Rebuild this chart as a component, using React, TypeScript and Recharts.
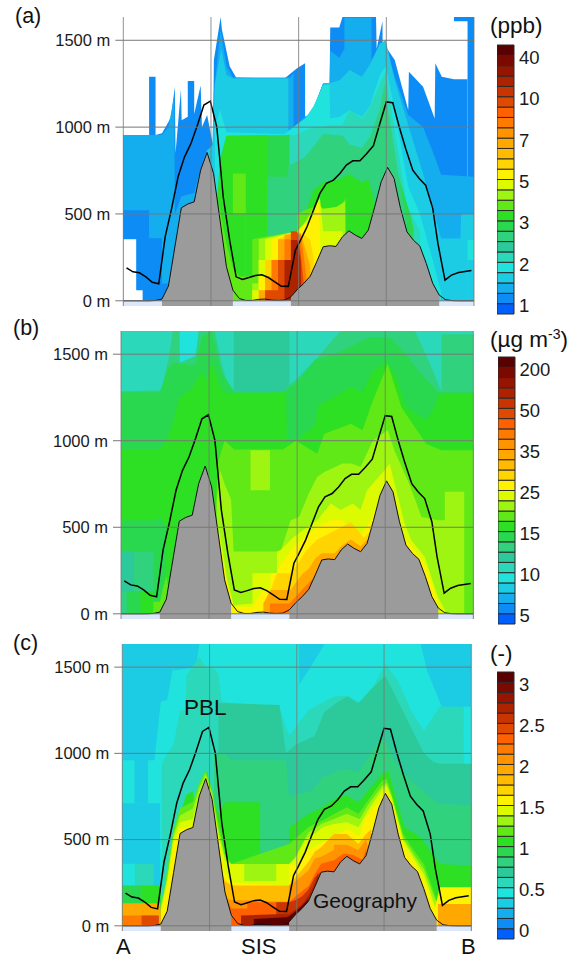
import React from 'react';
import { Area, Bar, BarChart, ComposedChart, Line, ReferenceLine, XAxis, YAxis } from 'recharts';

type Pt = [number, number];
type Band = [number, Pt[]];

const FONT = '"Liberation Sans", Arial, sans-serif';
const WHITE = -1;

// colour scale, lowest class first
const palette = [
  '#0060ff', '#0e8cf5', '#14aeee', '#1ccbe4', '#21e3dd', '#2bd8ba', '#2cc99a', '#30d27d', '#2ad84f',
  '#2ee023', '#60e817', '#9ef512', '#ddfb00', '#fff200', '#ffd400', '#ffbb00', '#ffa800', '#ff9400',
  '#ff7a00', '#ff6000', '#e04a00', '#c93400', '#ad2300', '#951500', '#7a0a00', '#5a0000',
];

const scaleTicks = [1, 5, 9, 13, 17, 21, 25];
const labelsA = ['1', '2', '3', '5', '7', '10', '40'];
const labelsB = ['5', '10', '15', '25', '35', '50', '200'];
const labelsC = ['0', '0.5', '1', '1.5', '2', '2.5', '3'];
const scaleCells = [1];

const heightTicks = [0, 500, 1000, 1500];
const distanceTicks = [0, 13.6, 27.2, 40.8, 54.4];
const Z_MIN = -30;
const Z_MAX = 1634;
const X_MAX = 54.4;

// section geometry, x in model columns, z in metres
const terrain: Pt[] = [
  [0, 0], [1, 0], [2, 0], [3, 0], [4, 0], [5, 2], [6, 10], [7, 85], [8, 310], [9, 535], [10, 557], [11, 570],
  [12, 753], [13, 854], [14, 733], [15, 465], [16, 196], [17, 61], [18, 13], [19, 2], [20, 2], [21, 8], [22, 10],
  [23, 4], [24, 2], [25, 4], [26, 23], [27, 65], [28, 100], [29, 142], [30, 225], [31, 311], [32, 317], [33, 313],
  [34, 369], [35, 403], [36, 378], [37, 359], [38, 407], [39, 541], [40, 685], [41, 768], [42, 705], [43, 532],
  [44, 397], [45, 349], [46, 315], [47, 215], [48, 100], [49, 33], [50, 6], [51, 1], [52, 0], [53, 0], [54.4, 0],
];
const pbl: Pt[] = [
  [0.5, 190], [1.5, 167], [2.5, 161], [3.5, 138], [4.5, 107], [5.5, 98], [6.5, 369], [7.5, 532], [8.5, 714], [9.5, 829],
  [10.5, 906], [11.5, 1012], [12.5, 1127], [13.5, 1150], [14.5, 1002], [15.5, 599], [16.5, 349], [17.5, 138], [18.5, 123],
  [19.5, 134], [20.5, 146], [21.5, 150], [22.5, 134], [23.5, 109], [24.5, 84], [25.6, 83], [26.7, 292], [27.5, 349],
  [28.5, 426], [29.5, 522], [30.5, 618], [31.5, 676], [32.6, 695], [33.6, 733], [34.6, 781], [35.6, 806], [36.7, 806],
  [37.7, 845], [38.8, 893], [39.8, 1021], [40.8, 1145], [41.8, 1140], [42.8, 1002], [43.8, 877], [44.9, 752], [45.9, 704],
  [46.9, 666], [48, 532], [48.8, 330], [49.9, 119], [50.9, 148], [52, 163], [53, 169], [54, 175],
];
const groundStrip: Pt[] = [[0, 0], [X_MAX, 0]];

// panel (a), ppb classes painted in order
const a1: Pt[] = [[0, 954], [4, 954], [4, 1290], [5, 1290], [5, 954], [6, 965], [7, 1030], [7.4, 1060], [8, 1232], [8.1, 850], [8.95, 1220], [9.05, 1040], [10, 1060], [10, 1265], [11, 1265], [11, 1075], [12, 1240], [12.2, 1000], [13, 1070], [13.9, 900], [14.05, 1386], [15.1, 1634], [15.3, 1560], [16.5, 1350], [17.5, 1285], [25, 1280], [26, 1310], [27, 1340], [28.2, 1367], [28.2, 1060], [29.2, 1079], [31, 1252], [32, 1252], [32.1, 1574], [33.5, 1574], [34, 1634], [39.2, 1634], [39.3, 1450], [40.2, 1610], [40.25, 1400], [40.9, 1453], [42.1, 1386], [44.2, 1098], [44.3, 1319], [46.5, 1232], [48.3, 1050], [48.4, 1367], [49.4, 1290], [51.3, 1275], [51.3, 1634], [54.4, 1634]];
const aHole: Pt[] = [[51.3, 1610], [53.4, 1610]];
const a1Right: Pt[] = [[51.3, 1275], [53.4, 1275]];
const a2: Pt[] = [[0, 954], [6, 954], [7, 1000], [7.9, 1180], [8, 500], [9, 600], [11, 620], [12, 760], [13, 870], [13.8, 880], [14.05, 1200], [15.1, 1560], [16, 1350], [17, 1285], [25.9, 1285], [26.4, 1310], [26.4, 1000], [28.2, 1060], [29.2, 1079], [31, 1252], [32, 1252], [32.1, 1440], [33.5, 1400], [34.3, 1450], [34.3, 1630], [38.5, 1630], [38.5, 1300], [39.5, 1250], [40.8, 1450], [42, 1300], [44.2, 1070], [46.5, 1000], [48.3, 830], [49.3, 725], [54.4, 714]];
const a1Low: Pt[] = [[0, 522], [4, 522], [4, 360], [6, 360], [6, 100], [7, 100]];
const aHoleLow: Pt[] = [[0, 355], [2, 355], [2, 60], [3, 60], [3, 0]];
const a3: Pt[] = [[12.9, 860], [13.9, 900], [14.2, 1250], [15.2, 1450], [16, 1300], [17, 1280], [25.6, 1280], [25.6, 954], [27, 965], [28.2, 1010], [29.2, 1079], [31, 1252], [32.1, 1252], [33.6, 1271], [35.1, 1329], [37, 1290], [38.2, 1357], [39.8, 1482], [40.7, 1500], [42.1, 1271], [44.2, 1012], [46.5, 733], [49.3, 359], [52.3, 359], [52.4, 500], [54.4, 500]];
const a4Right: Pt[] = [[53.4, 350], [54.4, 350]];
const a3Low: Pt[] = [[53.4, 234], [54.4, 234]];
const a4: Pt[] = [[14.2, 1000], [15, 1100], [16, 970], [25, 960], [26.4, 1000], [28.2, 1050], [29.5, 1120], [31, 1240], [32, 1245], [32.1, 1050], [33.6, 1060], [35.1, 1098], [37, 1060], [38.2, 1118], [39.8, 1300], [40.7, 1350], [42.1, 1098], [44.2, 657], [46, 503], [48, 234], [49.3, 50]];
const a5: Pt[] = [[25.5, 960], [26.4, 950], [28.2, 980], [29.5, 1000], [31, 1000], [32.1, 1012], [34, 1012], [35.1, 1100], [37, 1050], [38.2, 1110], [39.8, 1250], [40.7, 1320], [42, 1000], [44, 550], [46, 400]];
const a7: Pt[] = [[25.5, 772], [26.4, 791], [28.2, 829], [29.5, 887], [31, 960], [34, 950], [35.1, 900], [37, 880], [38.2, 940], [39.8, 1100], [40.5, 1250], [41.5, 1000], [43, 650], [44, 450]];
const a8: Pt[] = [[14.5, 550], [15, 820], [16, 950], [25.8, 954], [25.8, 700], [26.4, 700], [28.2, 760], [29.5, 760], [31, 720], [33, 740], [35.1, 800], [37, 770], [38.2, 790], [39.5, 760], [40.5, 900], [41, 1000], [42, 800], [43.5, 620], [44.5, 500], [45, 420]];
const a7Low: Pt[] = [[22.3, 714], [25.8, 714]];
const a9: Pt[] = [[14.5, 500], [15, 780], [16, 950], [22.3, 954], [22.3, 360], [26, 360], [27, 420], [28, 480], [29.5, 640], [31, 680], [33.5, 700], [35, 730], [37, 680], [38, 700], [39, 560], [39.2, 100]];
const a10Block: Pt[] = [[17, 733], [19, 733]];
const a9Low: Pt[] = [[17, 503], [19, 503]];
const a10: Pt[] = [[14.8, 560], [16, 330], [17, 190], [18, 140], [20, 140], [20, 355], [27, 400], [27, 500], [28, 520], [29.5, 540], [31, 510], [33, 510], [34.5, 590], [34.5, 100]];
const a11: Pt[] = [[20, 100], [21, 100], [21, 355], [27, 400], [28.5, 470], [29.5, 540], [30, 560], [31, 530], [33, 540], [34.4, 570], [34.5, 100]];
const a12: Pt[] = [[20, 60], [21, 60], [21, 235], [22, 235], [22, 355], [27, 400], [28.5, 460], [29.5, 530], [30.5, 590], [31, 400], [34, 400]];
const a13: Pt[] = [[21, 140], [22, 140], [22, 235], [23, 235], [23, 355], [27, 400], [28.5, 450], [29.5, 480], [30.3, 560], [30.5, 350]];
const a14: Pt[] = [[22, 235], [24, 235], [24, 355], [27, 400], [28, 380], [29, 350], [29.5, 250]];
const a16: Pt[] = [[21, 60], [22, 60], [22, 140], [23, 140], [23, 235], [24, 235], [24, 355], [25, 355], [25, 380], [27.5, 390], [28, 330], [29, 200]];
const a18: Pt[] = [[22, 60], [23, 60], [23, 235], [25, 235], [25, 355], [26, 355], [26, 400], [27.5, 380], [28, 260], [28.5, 100]];
const a20: Pt[] = [[22, 60], [24, 60], [24, 235], [26, 235], [26, 400], [27, 400], [27.5, 280], [28, 100]];
const a22: Pt[] = [[25, 235], [26, 235], [26, 350], [27, 350], [27.5, 230], [27.6, 50]];
const bandsA: Band[] = [
  [1, a1], [WHITE, aHole], [1, a1Right], [2, a2], [1, a1Low], [WHITE, aHoleLow], [3, a3], [4, a4Right], [3, a3Low], [4, a4], [5, a5], [8, a8], [7, a7], [7, a7Low], [9, a9],
  [10, a10Block], [9, a9Low], [10, a10], [11, a11], [12, a12], [13, a13], [14, a14], [16, a16], [18, a18], [20, a20], [22, a22],
];

// panel (b), ug m-3 classes
const b5: Pt[] = [[0, 1634], [X_MAX, 1634]];
const b4: Pt[] = [[9.1, 1634], [12, 1634]];
const b6: Pt[] = [[17.4, 1634], [26, 1634]];
const b7: Pt[] = [[0, 1286], [6.2, 1290], [7.5, 1500], [8, 1634], [9, 1634], [9.05, 1450], [11.5, 1490], [12, 1634], [14.5, 1634], [15.5, 1450], [16.5, 1310], [18, 1286], [24.65, 1280], [27.2, 1360], [30.3, 1480], [33.9, 1634], [45.4, 1634], [48, 1420], [49.5, 1280], [49.5, 1615], [54.4, 1615]];
const b8: Pt[] = [[0, 1280], [6, 1280], [7.3, 1420], [8, 1450], [10.5, 1440], [11.5, 1440], [12.5, 1600], [14, 1634], [15.5, 1400], [17.5, 1280], [25, 1280], [27.2, 1340], [30, 1470], [33, 1500], [38.5, 1600], [41.5, 1600], [44, 1500], [46, 1400], [49, 1280], [54.4, 1280]];
const b9: Pt[] = [[0, 950], [6, 950], [7, 1000], [8, 1100], [9, 1250], [11, 1300], [12.5, 1400], [13.1, 1340], [14, 1450], [15.5, 1300], [16.5, 1270], [25.5, 1280], [25.6, 1000], [27, 1000], [30, 1090], [30.4, 1200], [31.4, 1221], [34.2, 1280], [35.5, 1310], [37.3, 1280], [38.9, 1400], [41, 1455], [42.5, 1370], [44, 1194], [47.1, 1117], [48.5, 1200], [49.2, 1275], [54.4, 1275]];
const b8Low: Pt[] = [[0, 540], [5, 540], [6, 560], [7, 500]];
const b7Low: Pt[] = [[0, 359], [5, 359], [5, 130]];
const b6Low: Pt[] = [[0, 359], [2, 359], [2, 130]];
const b7Floor: Pt[] = [[0, 130], [0.9, 130]];
const b8Floor: Pt[] = [[0.9, 130], [3, 130]];
const b9Floor: Pt[] = [[3, 130], [5, 130]];
const b10: Pt[] = [[5, 70], [6, 70], [6.5, 150], [7, 220], [7.5, 100], [14.5, 500], [15, 880], [16, 1000], [17.5, 950], [25, 950], [27, 1000], [30.3, 925], [31.4, 1040], [34.2, 1079], [35.5, 1098], [37.3, 1060], [38.9, 1233], [41.2, 1444], [43.3, 1194], [47.1, 983], [49.5, 945], [54.4, 945]];
const b11Block: Pt[] = [[20, 945], [23, 945]];
const b10Low: Pt[] = [[17.4, 714], [23, 714]];
const b11: Pt[] = [[14.8, 650], [15.3, 830], [16, 750], [17, 660], [17.4, 360], [24.65, 360], [26.2, 540], [27.5, 560], [29, 695], [30.3, 791], [31.4, 820], [34.2, 868], [35.5, 868], [37, 849], [38.9, 1002], [41.2, 1060], [42.2, 945], [44.5, 752], [46.4, 560], [49, 541], [50, 541], [50, 705], [53, 705], [53, 0]];
const b12: Pt[] = [[15.1, 500], [16.4, 200], [17.4, 50], [20.3, 60], [20.3, 234], [24.1, 234], [24.1, 360], [24.65, 369], [26.7, 445], [30.3, 541], [32.4, 637], [33.9, 600], [35.8, 637], [37, 600], [38, 714], [40.7, 829], [41.5, 868], [42.5, 714], [43.8, 522], [44.8, 426], [46.9, 330], [48.9, 100], [50, 23]];
const b13: Pt[] = [[15.3, 388], [16.4, 177], [17.4, 42], [20.3, 40], [22, 138], [23.1, 138], [23.1, 234], [24.1, 234], [24.65, 282], [26.7, 388], [30.3, 503], [32.4, 541], [34.2, 541], [35.8, 465], [37, 445], [38.6, 541], [40.2, 695], [41.2, 753], [42.5, 640], [43, 480], [45, 380], [47, 280], [49, 60]];
const b14: Pt[] = [[22, 60], [23.1, 138], [24.1, 234], [26.2, 234], [27.5, 300], [28.5, 360], [30.3, 430], [31.4, 450], [34, 500], [35.5, 530], [37.5, 440], [38.5, 480], [38.8, 100]];
const b16: Pt[] = [[22, 60], [23.1, 138], [26.2, 138], [27, 180], [28, 230], [29, 260], [30, 320], [31, 350], [33, 350], [34, 390], [35.5, 430], [37, 390], [38, 430], [38.3, 300]];
const b18: Pt[] = [[23, 60], [26, 60], [27, 100], [28, 140], [29, 180], [29.5, 200]];
const bandsB: Band[] = [
  [5, b5], [4, b4], [6, b6], [7, b7], [8, b8], [9, b9], [8, b8Low], [7, b7Low], [6, b6Low], [7, b7Floor], [8, b8Floor], [9, b9Floor], [10, b10],
  [11, b11Block], [10, b10Low], [11, b11], [12, b12], [13, b13], [14, b14], [16, b16], [18, b18],
];

// panel (c), dimensionless classes
const c3: Pt[] = [[0, 1634], [X_MAX, 1634]];
const c4: Pt[] = [[0, 960], [1.9, 960], [1.9, 710], [4, 710], [4, 960], [5, 960], [6, 1300], [7, 1310], [7.9, 1500], [8, 1480], [11.5, 1500], [12, 1634], [27.5, 1634], [27.6, 1400], [29, 1480], [31, 1600], [31.5, 1634], [46.5, 1634], [47.5, 1480], [49.8, 1270], [54.4, 1270]];
const c3Low: Pt[] = [[0, 710], [5.9, 710]];
const c5: Pt[] = [[6.2, 940], [7, 1000], [8, 1050], [9, 1250], [9.9, 1250], [10, 1450], [12, 1560], [13, 1500], [14, 1500], [15, 1460], [15.5, 1300], [17, 1290], [24.4, 1275], [26, 1100], [29, 1250], [31, 1290], [33, 1330], [35, 1334], [37, 1295], [39, 1382], [41, 1517], [43, 1420], [45, 1247], [47, 1131], [49.5, 1270], [53.2, 1270], [53.2, 940], [54.4, 940]];
const c6: Pt[] = [[15, 1290], [17, 1290], [24.5, 1280], [25.5, 1000], [27, 1050], [30, 1100], [31.5, 1240], [33.7, 1300], [35.2, 1330], [36.8, 1290], [39, 1380], [41, 1450], [43, 1300], [45, 1150], [47, 1000], [48.5, 950], [49.5, 940], [54.4, 940]];
const c7: Pt[] = [[14.3, 1000], [16, 1000], [17, 960], [25.5, 960], [26, 750], [29.6, 784], [31.2, 861], [33.7, 899], [35.2, 909], [36.8, 890], [39.4, 1034], [40.7, 1092], [42.3, 957], [45, 841], [49.3, 706], [54.4, 700]];
const c9: Pt[] = [[7, 200], [8, 450], [9, 650], [10, 760], [11, 780], [11.2, 720], [12, 800], [13.2, 900], [14, 750], [15, 650], [16, 716], [21.5, 716], [21.5, 360], [26, 360], [26, 571], [29, 648], [31.2, 687], [33.5, 745], [35, 755], [36.8, 716], [38.3, 784], [40.5, 880], [41.5, 900], [42.5, 764], [44, 571], [46.5, 513], [49.5, 359], [54.4, 349]];
const cLeft4: Pt[] = [[0, 360], [2, 360]];
const cLeft5: Pt[] = [[2, 360], [4.9, 360]];
const cLeft8: Pt[] = [[0, 234], [3, 234]];
const cLeft9: Pt[] = [[3, 234], [6, 234]];
const c10: Pt[] = [[6, 130], [6.5, 200], [7, 330], [8, 560], [9, 680], [10, 700], [11, 720], [12, 830], [13, 900], [14, 790], [15, 590], [16, 420], [17, 359], [26, 475], [29, 571], [30, 590], [31.2, 610], [33, 648], [35, 687], [36.8, 648], [38.3, 726], [40.5, 841], [41.2, 851], [42, 764], [43.8, 533], [45.5, 436], [47, 359], [48.7, 185], [49.2, 127]];
const c11: Pt[] = [[6, 110], [7, 280], [8, 530], [9, 640], [11, 680], [12, 800], [13, 880], [14, 770], [15, 560], [16, 400], [17, 359], [26, 359], [27, 400], [29, 540], [31, 590], [33, 620], [35, 650], [37, 620], [38.3, 700], [40.5, 810], [41.2, 830], [42, 750], [43.8, 510], [45.5, 410], [47, 330], [48.7, 160], [49.2, 120]];
const c12: Pt[] = [[6, 90], [7, 260], [8, 510], [9, 600], [11, 620], [12, 770], [13, 870], [14, 750], [15, 530], [16, 380], [17, 359], [19, 359], [19, 260], [24, 260], [24, 359], [26, 359], [27, 390], [28.5, 500], [30, 533], [31.2, 571], [33, 590], [35, 600], [36.8, 571], [38.3, 668], [40.5, 790], [41.2, 812], [42, 745], [43.8, 494], [45.5, 390], [47, 301], [48.7, 120]];
const c13: Pt[] = [[6, 80], [7, 230], [8, 480], [9, 560], [10.5, 575], [11, 590], [12, 760], [13, 860], [14, 740], [15, 500], [16, 300], [17, 250], [26, 234], [26, 359], [27, 350], [29, 440], [31, 480], [33, 520], [34, 540], [35, 560], [37, 520], [37.8, 620], [40, 720], [41.2, 780], [42, 720], [43.8, 470], [45.5, 370], [47, 270], [48.7, 100], [49.5, 224], [54.4, 224]];
const c15: Pt[] = [[14.5, 430], [15.3, 350], [16, 260], [17, 234], [26, 234], [27, 280], [29, 370], [30, 430], [31, 455], [33, 533], [35, 533], [36.8, 475], [38, 533], [38.8, 560], [39, 300]];
const c16Left: Pt[] = [[0, 131], [5.9, 131], [6, 60]];
const c16Right: Pt[] = [[49.2, 127], [54.4, 127]];
const c17: Pt[] = [[14.8, 200], [15.5, 200], [16, 160], [17, 150], [26, 140], [26, 234], [27, 260], [29, 320], [30, 390], [31, 400], [33, 440], [33, 470], [35, 470], [36.8, 440], [38, 500], [38.5, 430]];
const c18Left: Pt[] = [[0, 60], [5.5, 60]];
const c19: Pt[] = [[16, 180], [17, 100], [19.5, 100], [19.5, 137], [26, 137], [27, 170], [29, 230], [30, 300], [31, 360], [33, 380], [34.5, 420], [36, 410], [37.5, 380], [38, 450]];
const c20Left: Pt[] = [[3, 60], [5.7, 60]];
const c21: Pt[] = [[24, 137], [26, 137], [27, 150], [28, 170], [29, 210], [30, 280], [30.8, 310]];
const c22: Pt[] = [[18.5, 60], [26, 70], [27, 95], [28, 125], [29, 175], [30, 245], [30.5, 310]];
const c25: Pt[] = [[20.5, 40], [25.5, 50], [26, 55], [27, 85], [28, 115], [29, 155]];
const bandsC: Band[] = [
  [3, c3], [4, c4], [3, c3Low], [5, c5], [6, c6], [7, c7], [9, c9], [4, cLeft4], [5, cLeft5], [8, cLeft8], [9, cLeft9], [10, c10], [11, c11], [12, c12], [13, c13],
  [15, c15], [16, c16Left], [16, c16Right], [17, c17], [18, c18Left], [19, c19], [20, c20Left], [21, c21], [22, c22], [25, c25],
];

const rows = (pts: Pt[]) => pts.map(([x, z]) => ({ x, z }));
const terrainLeft = terrain.filter(([x]) => x >= 6 && x <= 17);
const terrainRight = terrain.filter(([x]) => x >= 26 && x <= 49);

const fill = (key: string, pts: Pt[], color: string, stroke = 'none') => (
  <Area
    key={key}
    data={rows(pts)}
    dataKey="z"
    type="linear"
    baseValue={Z_MIN}
    fill={color}
    fillOpacity={1}
    stroke={stroke}
    dot={false}
    activeDot={false}
    legendType="none"
    isAnimationActive={false}
  />
);

type PanelProps = { bands: Band[]; top: number; left: number; right: number; height: number };

const Section = ({ bands, top, left, right, height }: PanelProps) => (
  <div style={{ position: 'absolute', left: 0, top }}>
    <ComposedChart width={578} height={height + 8} margin={{ top: 0, right: 0, bottom: 0, left: 0 }}>
      <XAxis dataKey="x" type="number" domain={[0, X_MAX]} ticks={distanceTicks} height={8} tick={false} tickSize={7} stroke="#777" axisLine={false} interval={0} />
      <YAxis
        type="number"
        domain={[Z_MIN, Z_MAX]}
        ticks={heightTicks}
        width={left}
        tickSize={8}
        tickMargin={5}
        interval={0}
        axisLine={false}
        stroke="#777"
        tickFormatter={(v: number) => `${v} m`}
        tick={{ fontSize: 16.5, fontFamily: FONT, fill: '#1a1a1a' }}
        allowDataOverflow
      />
      <YAxis yAxisId="r" orientation="right" type="number" domain={[Z_MIN, Z_MAX]} ticks={heightTicks} width={578 - right} tickSize={9} tick={false} axisLine={false} stroke="#777" interval={0} />
      {bands.map(([level, pts], i) => fill(`band-${i}`, pts, level === WHITE ? '#ffffff' : palette[level]))}
      {fill('strip', groundStrip, '#dbe8fa')}
      {fill('hill-left', terrainLeft, '#9b9b9b')}
      {fill('hill-right', terrainRight, '#9b9b9b')}
      <Line data={rows(terrain)} dataKey="z" type="linear" stroke="#111" strokeWidth={1} dot={false} activeDot={false} legendType="none" isAnimationActive={false} />
      <Line data={rows(pbl)} dataKey="z" type="linear" stroke="#000" strokeWidth={1.5} dot={false} activeDot={false} legendType="none" isAnimationActive={false} />
      {heightTicks.map((z) => <ReferenceLine key={`h${z}`} y={z} stroke="#777" strokeWidth={1} />)}
      {distanceTicks.map((x) => <ReferenceLine key={`v${x}`} x={x} stroke="#777" strokeOpacity={0.8} strokeWidth={1} />)}
    </ComposedChart>
  </div>
);

type ScaleProps = { labels: string[]; left: number; top: number; height: number; width: number };

const ColorScale = ({ labels, left, top, height, width }: ScaleProps) => {
  const row = [Object.fromEntries(palette.map((_, i) => [`c${i}`, scaleCells[0]]))];
  return (
    <div style={{ position: 'absolute', left, top }}>
      <BarChart width={width + 50} height={height + 14} data={row} barCategoryGap={0} margin={{ top: 1, right: 0, bottom: 13, left: 0 }}>
        <XAxis hide />
        <YAxis
          orientation="right"
          type="number"
          domain={[0, palette.length]}
          ticks={scaleTicks}
          width={50}
          tickSize={0}
          tickMargin={5}
          interval={0}
          axisLine={false}
          tickLine={false}
          tickFormatter={(v: number) => labels[scaleTicks.indexOf(v)]}
          tick={{ fontSize: 18.5, fontFamily: FONT, fill: '#1a1a1a', dy: 2 }}
        />
        {palette.map((color, i) => (
          <Bar key={color} dataKey={`c${i}`} stackId="scale" fill={color} stroke="#2a2a2a" strokeWidth={1} isAnimationActive={false} />
        ))}
      </BarChart>
    </div>
  );
};

const Note = ({ x, y, size = 22, children }: { x: number; y: number; size?: number; children: React.ReactNode }) => (
  <div style={{ position: 'absolute', left: x, top: y, fontFamily: FONT, fontSize: size, lineHeight: 1, color: '#111', whiteSpace: 'nowrap' }}>{children}</div>
);

export default function App() {
  return (
    <div style={{ position: 'absolute', left: 0, top: 0, width: 578, height: 959, overflow: 'hidden', background: '#fff' }}>
      <Section bands={bandsA} top={17} left={123.3} right={474} height={289} />
      <Section bands={bandsB} top={331} left={121} right={473.3} height={288} />
      <Section bands={bandsC} top={644} left={122.3} right={471.3} height={287} />
      <ColorScale labels={labelsA} left={497} top={44} height={269} width={17} />
      <ColorScale labels={labelsB} left={498} top={356} height={267} width={16.5} />
      <ColorScale labels={labelsC} left={497} top={671} height={267} width={17} />
      <Note x={15} y={6} size={21.5}>(a)</Note>
      <Note x={13} y={318} size={21.5}>(b)</Note>
      <Note x={13} y={633} size={21.5}>(c)</Note>
      <Note x={490} y={15} size={22.5}>(ppb)</Note>
      <Note x={490} y={329} size={22.5}>(µg m<sup style={{ fontSize: 14, lineHeight: 0 }}>-3</sup>)</Note>
      <Note x={490} y={643} size={22.5}>(-)</Note>
      <Note x={184} y={697} size={22.5}>PBL</Note>
      <Note x={313} y={890} size={21}>Geography</Note>
      <Note x={116} y={936} size={22}>A</Note>
      <Note x={241} y={936} size={22}>SIS</Note>
      <Note x={461} y={936} size={22}>B</Note>
    </div>
  );
}
